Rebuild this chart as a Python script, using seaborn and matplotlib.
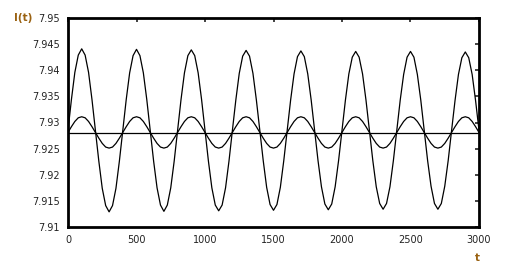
import seaborn as sns
import matplotlib.pyplot as plt
import pandas as pd

# time samples, every 25 units from 0 to 3000
t = list(range(0, 3001, 25))

# large oscillation
I_big = [
    7.9285, 7.9344, 7.9396, 7.9429, 7.9441, 7.9429, 7.9396, 7.9344,
    7.9285, 7.9226, 7.9174, 7.9141, 7.9129, 7.9141, 7.9174, 7.9226,
    7.9285, 7.9344, 7.9395, 7.9428, 7.9440, 7.9428, 7.9395, 7.9344,
    7.9285, 7.9226, 7.9175, 7.9142, 7.9130, 7.9142, 7.9175, 7.9226,
    7.9285, 7.9344, 7.9395, 7.9428, 7.9439, 7.9428, 7.9395, 7.9344,
    7.9285, 7.9226, 7.9175, 7.9142, 7.9131, 7.9142, 7.9175, 7.9226,
    7.9285, 7.9343, 7.9394, 7.9427, 7.9438, 7.9427, 7.9394, 7.9343,
    7.9285, 7.9227, 7.9176, 7.9143, 7.9132, 7.9143, 7.9176, 7.9227,
    7.9285, 7.9343, 7.9393, 7.9426, 7.9437, 7.9426, 7.9393, 7.9343,
    7.9285, 7.9227, 7.9177, 7.9144, 7.9133, 7.9144, 7.9177, 7.9227,
    7.9285, 7.9343, 7.9393, 7.9425, 7.9436, 7.9425, 7.9393, 7.9343,
    7.9285, 7.9227, 7.9177, 7.9145, 7.9134, 7.9145, 7.9177, 7.9227,
    7.9285, 7.9343, 7.9392, 7.9425, 7.9436, 7.9425, 7.9392, 7.9343,
    7.9285, 7.9227, 7.9178, 7.9145, 7.9134, 7.9145, 7.9178, 7.9227,
    7.9285, 7.9342, 7.9392, 7.9424, 7.9435, 7.9424, 7.9392, 7.9342,
    7.9285,
]

# small oscillation
I_mid = [
    7.9281, 7.9292, 7.9302, 7.9309, 7.9311, 7.9309, 7.9302, 7.9292,
    7.9281, 7.9270, 7.9260, 7.9253, 7.9251, 7.9253, 7.9260, 7.9270,
    7.9281, 7.9292, 7.9302, 7.9309, 7.9311, 7.9309, 7.9302, 7.9292,
    7.9281, 7.9270, 7.9260, 7.9253, 7.9251, 7.9253, 7.9260, 7.9270,
    7.9281, 7.9292, 7.9302, 7.9309, 7.9311, 7.9309, 7.9302, 7.9292,
    7.9281, 7.9270, 7.9260, 7.9253, 7.9251, 7.9253, 7.9260, 7.9270,
    7.9281, 7.9292, 7.9302, 7.9309, 7.9311, 7.9309, 7.9302, 7.9292,
    7.9281, 7.9270, 7.9260, 7.9253, 7.9251, 7.9253, 7.9260, 7.9270,
    7.9281, 7.9292, 7.9302, 7.9309, 7.9311, 7.9309, 7.9302, 7.9292,
    7.9281, 7.9270, 7.9260, 7.9253, 7.9251, 7.9253, 7.9260, 7.9270,
    7.9281, 7.9292, 7.9302, 7.9309, 7.9311, 7.9309, 7.9302, 7.9292,
    7.9281, 7.9270, 7.9260, 7.9253, 7.9251, 7.9253, 7.9260, 7.9270,
    7.9281, 7.9292, 7.9302, 7.9309, 7.9311, 7.9309, 7.9302, 7.9292,
    7.9281, 7.9270, 7.9260, 7.9253, 7.9251, 7.9253, 7.9260, 7.9270,
    7.9281, 7.9292, 7.9302, 7.9309, 7.9311, 7.9309, 7.9302, 7.9292,
    7.9281,
]

# constant level
t_flat = [0, 3000]
I_flat = [7.928, 7.928]

xticks = [0, 500, 1000, 1500, 2000, 2500, 3000]
yticks = [7.91, 7.915, 7.92, 7.925, 7.93, 7.935, 7.94, 7.945, 7.95]
ylabels = ["7.91", "7.915", "7.92", "7.925", "7.93", "7.935", "7.94", "7.945", "7.95"]

sns.set_style("white")
plt.rcParams["font.family"] = ["DejaVu Sans"]

fig = plt.figure(figsize=(5.09, 2.71), dpi=100)
ax = fig.add_axes([68 / 509, 1 - 227 / 271, (479 - 68) / 509, (227 - 18) / 271])

df_big = pd.DataFrame({"t": t, "I": I_big})
df_mid = pd.DataFrame({"t": t, "I": I_mid})
df_flat = pd.DataFrame({"t": t_flat, "I": I_flat})
for d in (df_big, df_mid, df_flat):
    sns.lineplot(data=d, x="t", y="I", ax=ax, color="black", linewidth=0.9)

ax.set_xlim(0, 3000)
ax.set_ylim(7.91, 7.95)
ax.set_xticks(xticks)
ax.set_xticklabels([str(v) for v in xticks])
ax.set_yticks(yticks)
ax.set_yticklabels(ylabels)
ax.set_xlabel("")
ax.set_ylabel("")
ax.tick_params(direction="in", length=3, width=1.2, top=True, right=True,
               labelsize=7, colors="#222222", pad=6)
for s in ax.spines.values():
    s.set_linewidth(2)
    s.set_color("black")

fig.text(14 / 509, 1 - 18 / 271, "I(t)", fontsize=7.5, fontweight="bold",
         color="#9a6212", va="center", ha="left")
fig.text(477 / 509, 1 - 258 / 271, "t", fontsize=7.5, fontweight="bold",
         color="#9a6212", va="center", ha="center")

fig.savefig("out.png", dpi=100)
